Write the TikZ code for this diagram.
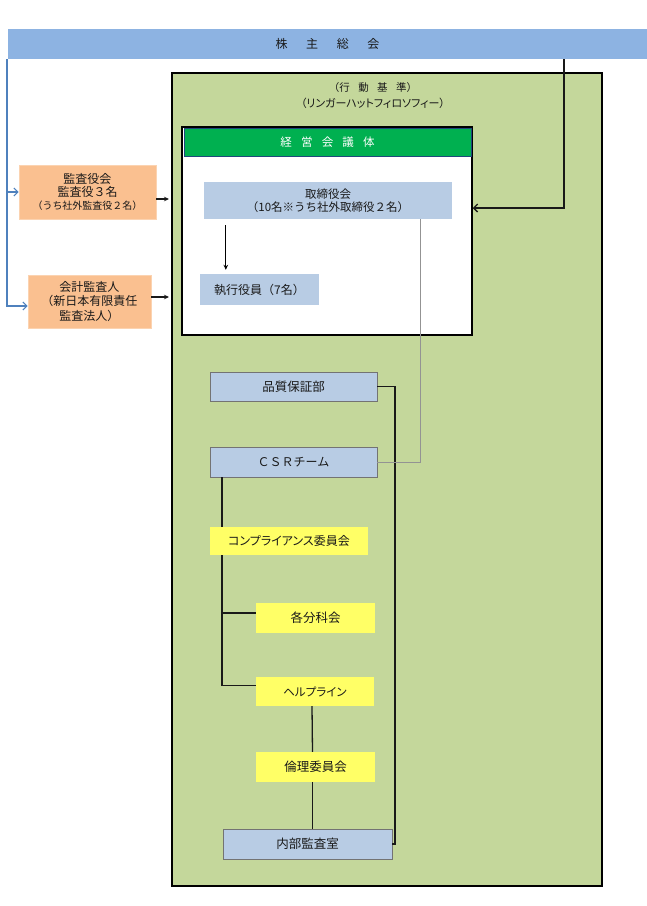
\documentclass[tikz,border=0pt]{standalone}
\usepackage{fontspec}
\setmainfont{Noto Sans CJK JP}
\newfontfamily\propfont{Noto Sans CJK JP}[RawFeature=+palt]
\usetikzlibrary{arrows.meta}

\definecolor{soukaiblue}{HTML}{8DB3E2}
\definecolor{kijungreen}{HTML}{C4D79B}
\definecolor{keieigreen}{HTML}{00B050}
\definecolor{headnavy}{HTML}{1F497D}
\definecolor{paleblue}{HTML}{B8CCE4}
\definecolor{paleorange}{HTML}{FAC090}
\definecolor{paleyellow}{HTML}{FFFF66}
\definecolor{busblue}{HTML}{4F81BD}

\begin{document}
\begin{tikzpicture}[x=1pt, y=-1pt, font=\fontsize{12.5}{14}\selectfont, text=black!90,
    dims/.style 2 args={minimum width=#1pt, minimum height=#2pt},
    box/.style={rectangle, inner sep=0pt, align=center},
    bluebox/.style={box, fill=paleblue, draw=gray!90!black, line width=0.8pt},
    softbox/.style={box, fill=paleblue},
    orangebox/.style={box, fill=paleorange, draw=paleorange!70!white, line width=0.8pt},
    yellowbox/.style={box, fill=paleyellow},
    link/.style={line width=1.3pt, black!90},
    feed/.style={line width=0.9pt, gray!85},
    bus/.style={line width=1.1pt, busblue},
    arr/.style={-{Stealth[length=5pt,width=4.5pt]}},
    openarr/.style={-{Straight Barb[length=4pt,width=8pt]}}]

  \useasboundingbox (0,0) rectangle (647,906);

  % frames
  \node[box, fill=soukaiblue, dims={639}{30}, font=\fontsize{12}{14}\selectfont] (soukai) at (327.5,44)
    {株\hspace{1.55em}主\hspace{1.55em}総\hspace{1.55em}会};
  \node[box, fill=kijungreen, draw=black, line width=2pt, dims={430}{813}] (kodo) at (387,479.5) {};
  \node[font=\fontsize{10.5}{12}\selectfont] (kijun) at (373,88)
    {（行\hspace{0.8em}動\hspace{0.8em}基\hspace{0.8em}準）};
  \node[font=\propfont\fontsize{11}{12}\selectfont] (philo) at (373,103) {（リンガーハットフィロソフィー）};
  \node[box, fill=white, draw=black, line width=1.5pt, dims={290}{208}] (keiei) at (327,231) {};
  \node[box, fill=keieigreen, draw=headnavy, line width=1pt, dims={287}{28}, text=white,
    font=\fontsize{11.5}{13}\selectfont] (keieititle) at (327.5,142)
    {経\hspace{0.8em}営\hspace{0.8em}会\hspace{0.8em}議\hspace{0.8em}体};

  % boards
  \node[softbox, dims={248}{37}, font=\fontsize{11.5}{13}\selectfont] (torishimari) at (328,200.5)
    {取締役会\\（10名※うち社外取締役２名）};
  \node[softbox, dims={119}{31}, font=\fontsize{12}{14}\selectfont] (shikko) at (259.5,289.5) {執行役員（7名）};
  \node[orangebox, dims={137}{54}, font=\fontsize{12}{13}\selectfont] (kansa) at (87.5,192)
    {監査役会\\監査役３名\\{\fontsize{10}{11}\selectfont（うち社外監査役２名）}};
  \node[orangebox, dims={123}{53}, font=\fontsize{12}{14.5}\selectfont] (kaikei) at (89.5,301.5)
    {会計監査人\\（新日本有限責任\\監査法人）};

  % departments
  \node[bluebox, dims={167}{29}] (hinshitsu) at (293.5,386.5) {品質保証部};
  \node[bluebox, dims={167}{30}, font=\fontsize{12}{14}\selectfont] (csr) at (293.5,462) {ＣＳＲチーム};
  \node[yellowbox, dims={119}{30}] (bunka) at (315.5,618) {各分科会};
  \node[yellowbox, dims={118}{29}, font=\propfont\fontsize{11.5}{13}\selectfont] (helpline) at (315,691.5) {ヘルプライン};
  \node[yellowbox, dims={119}{30}] (rinri) at (315.5,767) {倫理委員会};
  \node[bluebox, dims={169}{30}] (naibu) at (307.5,844) {内部監査室};

  % csr branch (runs behind the compliance box)
  \coordinate (csrline) at (222,0);
  \draw[link] (csr.south -| csrline) |- ([yshift=6pt]helpline.west);
  \draw[link] ([yshift=5pt]bunka.west -| csrline) -- ([yshift=5pt]bunka.west);
  \node[yellowbox, dims={158}{28}, font=\propfont\fontsize{12}{13}\selectfont] (compliance) at (289,541) {コンプライアンス委員会};

  \draw[link] ([xshift=-3pt]helpline.south) -- ([xshift=-3pt]rinri.north);
  \draw[link] ([xshift=-3pt]rinri.south) -- ([xshift=-3pt]rinri.south |- naibu.north);

  \coordinate (qaline) at (395,0);
  \draw[link] (hinshitsu.east) -- (hinshitsu.east -| qaline) |- (naibu.east);

  \coordinate (csrfeed) at (420,0);
  \draw[feed] (torishimari.south -| csrfeed) |- (csr.east);

  % shareholders
  \coordinate (soukaitap) at (564,0);
  \draw[link, openarr] (soukai.south -| soukaitap) |- ([yshift=23pt]keiei.east);

  \coordinate (leftbus) at (7,0);
  \draw[bus, openarr] (soukai.south west -| leftbus) |- (kansa.west);
  \draw[bus, openarr] (soukai.south west -| leftbus) |- ([yshift=-4.5pt]kaikei.west);

  \draw[link, arr] ([yshift=-7pt]kansa.east) -- ([xshift=-2pt,yshift=-7pt]kansa.east -| kodo.west);
  \draw[link, arr] ([yshift=4.5pt]kaikei.east) -- ([xshift=-2pt,yshift=4.5pt]kaikei.east -| kodo.west);

  \draw[line width=1pt, arr] ([xshift=26pt,yshift=-6pt]shikko.north west |- torishimari.south)
    -- ([xshift=26pt,yshift=4pt]shikko.north west);
\end{tikzpicture}
\end{document}
